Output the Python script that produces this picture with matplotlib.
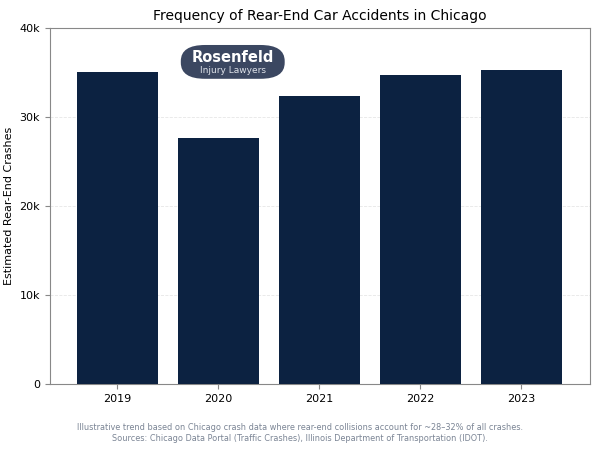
import matplotlib
matplotlib.use("Agg")
import matplotlib.pyplot as plt
from matplotlib.patches import FancyBboxPatch
from matplotlib.ticker import FuncFormatter

years = ["2019", "2020", "2021", "2022", "2023"]
crashes = [35100, 27600, 32350, 34700, 35250]

fig, ax = plt.subplots(figsize=(6, 4.5), dpi=100)
fig.subplots_adjust(left=0.083, right=0.983, top=0.938, bottom=0.147)

ax.bar(years, crashes, width=0.8, color="#0c2241", zorder=3)
ax.set_xlim(-0.67, 4.68)
ax.set_ylim(0, 40000)
ax.set_yticks([0, 10000, 20000, 30000, 40000])
ax.yaxis.set_major_formatter(FuncFormatter(lambda v, p: "0" if v == 0 else f"{int(v/1000)}k"))
ax.grid(axis="y", color="#e6e6e6", linestyle="--", linewidth=0.6, zorder=0)
for s in ax.spines.values():
    s.set_color("#888888")
ax.tick_params(axis="both", colors="#888888", labelcolor="black", labelsize=8)

ax.set_title("Frequency of Rear-End Car Accidents in Chicago", fontsize=10, pad=6)
ax.set_ylabel("Estimated Rear-End Crashes", fontsize=8)

# logo badge
badge = FancyBboxPatch((0.2426, 0.857), 0.1924, 0.095, transform=ax.transAxes,
                       boxstyle="round,pad=0,rounding_size=0.045", fc="#3b4761", ec="none",
                       zorder=5, mutation_aspect=1.0)
ax.add_patch(badge)
ax.text(0.339, 0.918, "Rosenfeld", transform=ax.transAxes, ha="center", va="center",
        fontsize=10.5, fontweight="bold", color="white", zorder=6)
ax.text(0.339, 0.881, "Injury Lawyers", transform=ax.transAxes, ha="center", va="center",
        fontsize=6.5, color="#dfe3ea", zorder=6)

fig.text(0.5, 0.038, "Illustrative trend based on Chicago crash data where rear-end collisions account for ~28\u201332% of all crashes.\n"
         "Sources: Chicago Data Portal (Traffic Crashes), Illinois Department of Transportation (IDOT).",
         ha="center", va="center", fontsize=5.9, color="#7a8494", linespacing=1.35)

fig.savefig("out.png", dpi=100)
